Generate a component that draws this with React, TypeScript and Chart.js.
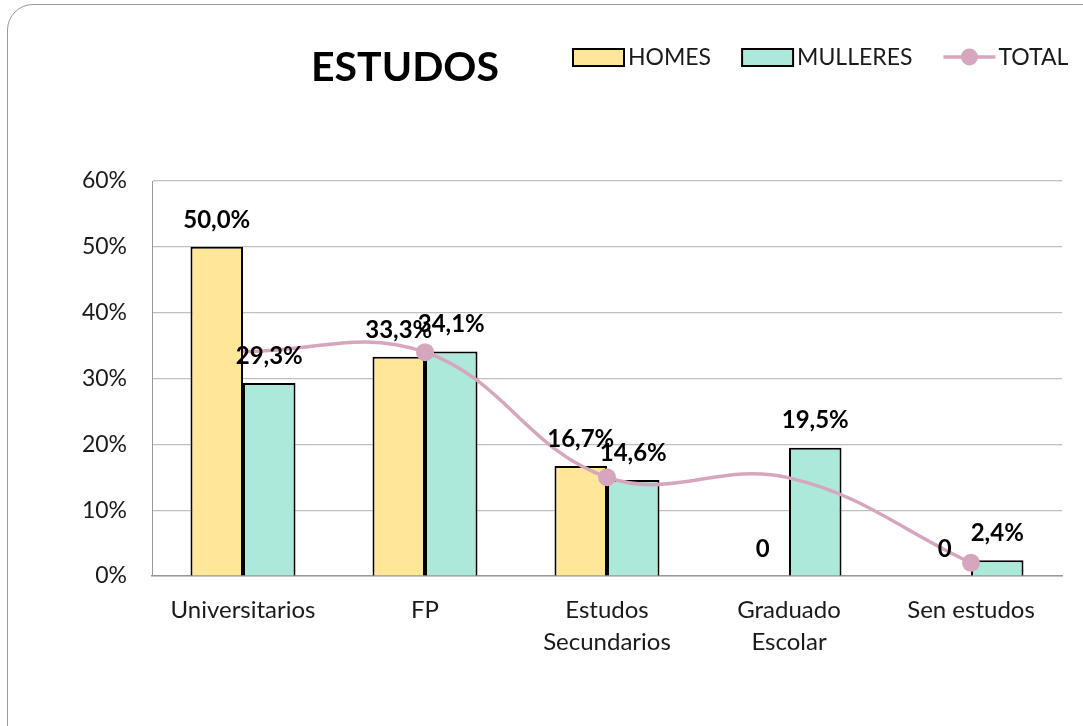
import React, { useEffect, useRef } from "react";
import { Chart, registerables } from "chart.js";

Chart.register(...registerables);

const categories: (string | string[])[] = [
  "Universitarios",
  "FP",
  ["Estudos", "Secundarios"],
  ["Graduado", "Escolar"],
  "Sen estudos",
];
const homes = [50.0, 33.3, 16.7, 0, 0];
const mulleres = [29.3, 34.1, 14.6, 19.5, 2.4];
const total = [34.1, 34.0, 15.0, 14.9, 2.0];
const totalMarkers = [0, 9, 9, 0, 9];
const yTicks = [0, 10, 20, 30, 40, 50, 60];

const FONT = "Lato, 'Open Sans', sans-serif";
const HOMES_COLOR = "#FFE699";
const MULLERES_COLOR = "#ACE9DA";
const TOTAL_COLOR = "#D5A6BE";

const fmt = (v: number) => (v === 0 ? "0" : v.toFixed(1).replace(".", ",") + "%");

const decorPlugin = {
  id: "decor",
  afterDatasetsDraw(chart: any) {
    const ctx = chart.ctx;
    ctx.save();
    ctx.font = `bold 24px ${FONT}`;
    ctx.fillStyle = "#000";
    ctx.textAlign = "center";
    ctx.textBaseline = "middle";
    [0, 1].forEach((di) => {
      const meta = chart.getDatasetMeta(di);
      const ds = chart.data.datasets[di];
      meta.data.forEach((el: any, i: number) => {
        ctx.fillText(fmt(ds.data[i] as number), el.x, el.y - 27);
      });
    });
    ctx.restore();
  },
  afterDraw(chart: any) {
    const ctx = chart.ctx;
    ctx.save();
    ctx.font = `bold 41px ${FONT}`;
    ctx.fillStyle = "#000";
    ctx.textAlign = "center";
    ctx.textBaseline = "middle";
    ctx.fillText("ESTUDOS", 405, 68);
    ctx.font = `23px ${FONT}`;
    ctx.textAlign = "left";
    let x = 573;
    const cy = 57;
    chart.data.datasets.forEach((ds: any, i: number) => {
      if (i < 2) {
        ctx.fillStyle = ds.backgroundColor;
        ctx.fillRect(x, cy - 8, 51, 17);
        ctx.strokeStyle = "#000";
        ctx.lineWidth = 2;
        ctx.strokeRect(x, cy - 8, 51, 17);
      } else {
        ctx.strokeStyle = ds.borderColor;
        ctx.lineWidth = 3.5;
        ctx.beginPath();
        ctx.moveTo(x, cy);
        ctx.lineTo(x + 52, cy);
        ctx.stroke();
        ctx.fillStyle = ds.borderColor;
        ctx.beginPath();
        ctx.arc(x + 26, cy, 8.5, 0, Math.PI * 2);
        ctx.fill();
      }
      ctx.fillStyle = "#1a1a1a";
      ctx.fillText(ds.label, x + 55, cy + 1);
      x += 55 + ctx.measureText(ds.label).width + 31;
    });
    ctx.restore();
  },
};

export default function App() {
  const ref = useRef<HTMLCanvasElement>(null);
  useEffect(() => {
    document.body.style.margin = "0";
    const chart = new Chart(ref.current!, {
      type: "bar",
      data: {
        labels: categories as any,
        datasets: [
          {
            type: "bar",
            label: "HOMES",
            data: homes,
            backgroundColor: HOMES_COLOR,
            borderColor: "#000",
            borderWidth: 2,
            categoryPercentage: 0.577,
            barPercentage: 1,
            order: 2,
          },
          {
            type: "bar",
            label: "MULLERES",
            data: mulleres,
            backgroundColor: MULLERES_COLOR,
            borderColor: "#000",
            borderWidth: 2,
            categoryPercentage: 0.577,
            barPercentage: 1,
            order: 2,
          },
          {
            type: "line",
            label: "TOTAL",
            data: total,
            borderColor: TOTAL_COLOR,
            backgroundColor: TOTAL_COLOR,
            borderWidth: 3.5,
            tension: 0.4,
            pointRadius: totalMarkers,
            pointBorderWidth: 0,
            pointBackgroundColor: TOTAL_COLOR,
            order: 1,
          } as any,
        ],
      },
      options: {
        animation: false,
        responsive: false,
        layout: { padding: { left: 0, top: 181, right: 21, bottom: 0 } },
        plugins: {
          legend: { display: false },
          title: { display: false },
          tooltip: { enabled: false },
        },
        scales: {
          x: {
            grid: { display: false, drawTicks: false },
            border: { color: "#999", width: 1.5 },
            ticks: {
              color: "#1a1a1a",
              font: { family: FONT, size: 24, lineHeight: 1.3 },
              padding: 19,
              maxRotation: 0,
              autoSkip: false,
            },
            afterFit: (s: any) => {
              s.height = 150;
            },
          },
          y: {
            min: 0,
            max: 60,
            afterBuildTicks: (s: any) => {
              s.ticks = yTicks.map((v) => ({ value: v }));
            },
            grid: { color: "#BFBFBF", lineWidth: 1.2, drawTicks: false },
            border: { color: "#999", width: 1 },
            ticks: {
              color: "#1a1a1a",
              font: { family: FONT, size: 23 },
              padding: 25,
              callback: (v: any) => v + "%",
            },
            afterFit: (s: any) => {
              s.width = 152;
            },
          },
        },
      },
      plugins: [decorPlugin],
    });
    return () => chart.destroy();
  }, []);
  return (
    <div style={{ position: "relative", width: 1083, height: 726, background: "#fff" }}>
      <div
        style={{
          position: "absolute",
          left: 7,
          top: 4,
          width: 1120,
          height: 760,
          border: "1.5px solid #9a9a9a",
          borderRadius: 26,
          boxSizing: "border-box",
        }}
      />
      <canvas ref={ref} width={1083} height={726} style={{ position: "absolute", left: 0, top: 0, display: "block" }} />
    </div>
  );
}
